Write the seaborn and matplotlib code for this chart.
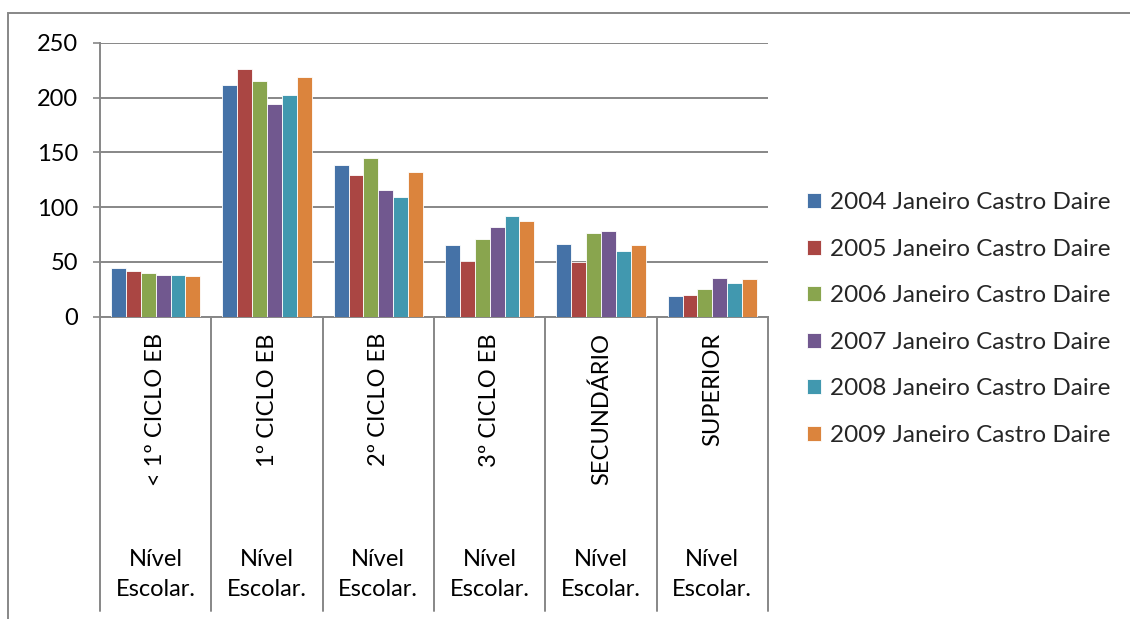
import matplotlib
matplotlib.use("Agg")
import matplotlib.pyplot as plt
import matplotlib.transforms as mtransforms
from matplotlib.patches import Rectangle
import seaborn as sns
import pandas as pd

# Education level categories and yearly counts (January, Castro Daire)
categories = ["< 1º CICLO EB", "1º CICLO EB", "2º CICLO EB",
              "3º CICLO EB", "SECUNDÁRIO", "SUPERIOR"]
series_names = ["2004 Janeiro Castro Daire", "2005 Janeiro Castro Daire",
                "2006 Janeiro Castro Daire", "2007 Janeiro Castro Daire",
                "2008 Janeiro Castro Daire", "2009 Janeiro Castro Daire"]
v2004 = [44, 211, 138, 65, 66, 19]
v2005 = [42, 226, 129, 51, 50, 20]
v2006 = [40, 215, 145, 71, 76, 25]
v2007 = [38, 194, 116, 82, 78, 35]
v2008 = [38, 202, 109, 92, 60, 31]
v2009 = [37, 219, 132, 87, 65, 34]
group_label = "Nível\nEscolar."
y_ticks = [0, 50, 100, 150, 200, 250]

colors = ["#4572A7", "#AA4643", "#89A54E", "#71588F", "#4198AF", "#DB843D"]

rows = []
for name, vals in zip(series_names, [v2004, v2005, v2006, v2007, v2008, v2009]):
    for cat, v in zip(categories, vals):
        rows.append({"Nivel": cat, "Serie": name, "Valor": v})
df = pd.DataFrame(rows)

sns.set_theme(style="white")
plt.rcParams["font.family"] = ["Lato", "DejaVu Sans"]

fig = plt.figure(figsize=(11.3, 6.19), dpi=100)
ax = fig.add_axes([100 / 1130, 1 - 316.7 / 619, 668 / 1130, 274 / 619])

sns.barplot(data=df, x="Nivel", y="Valor", hue="Serie", order=categories,
            hue_order=series_names, palette=colors, width=0.8,
            edgecolor="white", linewidth=0.6, saturation=1, ax=ax, zorder=3)

grid_c = "#878787"
ax.set_xlim(-0.5, len(categories) - 0.5)
ax.set_ylim(0, 250)
ax.set_yticks(y_ticks)
ax.yaxis.grid(True, color=grid_c, linewidth=1.4, zorder=0)
ax.set_axisbelow(True)
ax.tick_params(axis="y", length=5, width=1.2, color=grid_c, pad=11,
               labelsize=17, left=True, labelcolor="black")
ax.set_xticks([])
ax.set_xlabel("")
ax.set_ylabel("")
for side in ["top", "right"]:
    ax.spines[side].set_visible(False)
for side in ["left", "bottom"]:
    ax.spines[side].set_color(grid_c)
    ax.spines[side].set_linewidth(1.4)

# Category separators running down through the two-level label area
trans = mtransforms.blended_transform_factory(ax.transData, ax.transAxes)
for b in [i - 0.5 for i in range(len(categories) + 1)]:
    ax.plot([b, b], [0, -1.075], transform=trans, color=grid_c,
            linewidth=1.4, clip_on=False)

for i, cat in enumerate(categories):
    ax.text(i, -0.06, cat, transform=trans, rotation=90, ha="center",
            va="top", fontsize=17, color="black")
    ax.text(i, -0.941, group_label, transform=trans, ha="center",
            va="center", fontsize=17, color="black", linespacing=1.5)

ax.legend_.remove()
handles = [Rectangle((0, 0), 1, 1, facecolor=c, edgecolor="white", linewidth=0.6)
           for c in colors]
fig.legend(handles, series_names, loc="center left",
           bbox_to_anchor=(807 / 1130, 1 - 319 / 619), frameon=False,
           fontsize=17.5, handlelength=0.58, handleheight=0.58,
           handletextpad=0.35, labelspacing=1.05, borderpad=0, borderaxespad=0)

# Outer chart frame
fig.patches.append(Rectangle((7.5 / 1130, -0.1), 1.2, 1 - 13 / 619 + 0.1,
                             transform=fig.transFigure, fill=False,
                             edgecolor=grid_c, linewidth=1.4))

fig.savefig("out.png", dpi=100)
